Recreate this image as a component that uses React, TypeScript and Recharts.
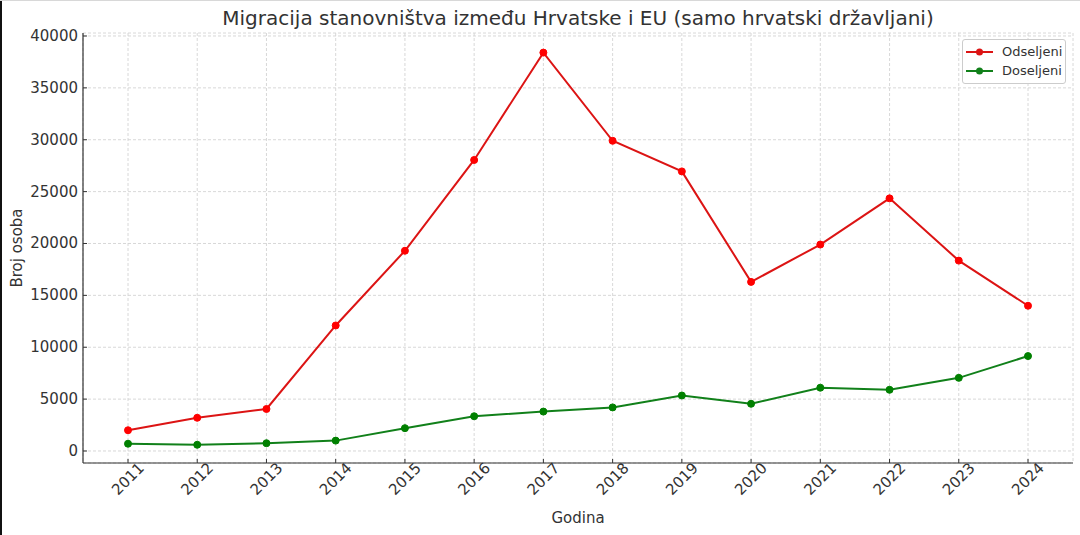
import { LineChart, Line, XAxis, YAxis, CartesianGrid, Legend } from "recharts";

const years = [2011, 2012, 2013, 2014, 2015, 2016, 2017, 2018, 2019, 2020, 2021, 2022, 2023, 2024];
const odseljeni = [2000, 3200, 4050, 12100, 19300, 28050, 38400, 29900, 26950, 16300, 19900, 24350, 18350, 14000];
const doseljeni = [700, 600, 750, 1000, 2200, 3350, 3800, 4200, 5350, 4550, 6100, 5900, 7050, 9150];
const yTicks = [0, 5000, 10000, 15000, 20000, 25000, 30000, 35000, 40000];

const title = "Migracija stanovništva između Hrvatske i EU (samo hrvatski državljani)";
const seriesNames = ["Odseljeni", "Doseljeni"];

const data = years.map((year, i) => ({
  year,
  Odseljeni: odseljeni[i],
  Doseljeni: doseljeni[i],
}));

const FONT = "'DejaVu Sans', sans-serif";
const TEXT = "#333333";
const AXIS = "#333333";

function YTick(props: any) {
  const { x, y, payload } = props;
  return (
    <g>
      <line x1={x} x2={x + 4} y1={y} y2={y} stroke={AXIS} strokeWidth={1} />
      <text
        x={x - 5}
        y={y}
        textAnchor="end"
        dominantBaseline="central"
        fontSize={15}
        fontFamily={FONT}
        fill={TEXT}
      >
        {payload.value}
      </text>
    </g>
  );
}

function XTick(props: any) {
  const { x, y, payload } = props;
  return (
    <g>
      <line x1={x} x2={x} y1={y} y2={y - 4} stroke={AXIS} strokeWidth={1} />
      <text
        transform={`translate(${x}, ${y + 16}) rotate(-45)`}
        textAnchor="middle"
        dominantBaseline="central"
        fontSize={15}
        fontFamily={FONT}
        fill={TEXT}
      >
        {payload.value}
      </text>
    </g>
  );
}

function LegendBox(props: any) {
  // keep the plotting order, not the alphabetical one
  const items = [...(props.payload || [])].sort(
    (a: any, b: any) => seriesNames.indexOf(a.value) - seriesNames.indexOf(b.value)
  );
  return (
    <div
      style={{
        border: "1px solid #cccccc",
        borderRadius: 3,
        background: "rgba(255,255,255,0.85)",
        padding: "2px 0 3px 0",
        fontFamily: FONT,
        fontSize: 13,
        color: TEXT,
        width: 102,
      }}
    >
      {items.map((p: any) => (
        <div key={p.value} style={{ display: "flex", alignItems: "center", height: 19 }}>
          <svg width={36} height={10} style={{ marginLeft: 3 }}>
            <line x1={0} x2={27} y1={5} y2={5} stroke={p.color} strokeWidth={2} />
            <circle cx={13.5} cy={5} r={3.5} fill={p.color} />
          </svg>
          <span>{p.value}</span>
        </div>
      ))}
    </div>
  );
}

export default function App() {
  return (
    <div
      style={{
        position: "absolute",
        left: 0,
        top: 0,
        width: 1080,
        height: 535,
        background: "#ffffff",
        fontFamily: FONT,
        overflow: "hidden",
      }}
    >
      <div style={{ position: "absolute", left: 0, top: 0, width: 2, height: 535, background: "#111" }} />
      <div style={{ position: "absolute", left: 0, top: 0, width: 1080, height: 1, background: "#d8d8d8" }} />
      <div
        style={{
          position: "absolute",
          left: 83,
          width: 990,
          top: 6,
          height: 24,
          lineHeight: "24px",
          textAlign: "center",
          fontSize: 20,
          color: TEXT,
          whiteSpace: "nowrap",
        }}
      >
        {title}
      </div>
      <LineChart
        width={1080}
        height={535}
        data={data}
        margin={{ top: 33, right: 7, bottom: 0, left: 0 }}
      >
        <CartesianGrid stroke="#d4d4d4" strokeDasharray="3 2" strokeWidth={0.9} />
        <XAxis
          dataKey="year"
          type="number"
          domain={[2010.35, 2024.65]}
          ticks={years}
          interval={0}
          allowDataOverflow
          height={72}
          tickSize={0}
          tickMargin={0}
          tickLine={false}
          axisLine={{ stroke: AXIS, strokeWidth: 1.2 }}
          tick={XTick}
          label={(p: any) => {
            const vb = p.viewBox;
            return (
              <text
                x={vb.x + vb.width / 2}
                y={518}
                textAnchor="middle"
                dominantBaseline="central"
                fontSize={15}
                fontFamily={FONT}
                fill={TEXT}
              >
                Godina
              </text>
            );
          }}
        />
        <YAxis
          type="number"
          domain={[-1157, 40289]}
          ticks={yTicks}
          interval={0}
          allowDataOverflow
          width={83}
          tickSize={0}
          tickMargin={0}
          tickLine={false}
          axisLine={{ stroke: AXIS, strokeWidth: 1.2 }}
          tick={YTick}
          label={(p: any) => {
            const vb = p.viewBox;
            const cy = vb.y + vb.height / 2;
            return (
              <text
                transform={`translate(17, ${cy}) rotate(-90)`}
                textAnchor="middle"
                dominantBaseline="central"
                fontSize={15}
                fontFamily={FONT}
                fill={TEXT}
              >
                Broj osoba
              </text>
            );
          }}
        />
        <Legend
          layout="vertical"
          verticalAlign="middle"
          align="center"
          content={LegendBox}
          wrapperStyle={{ top: 39, left: 962, width: 104 }}
        />
        <Line
          type="linear"
          dataKey={seriesNames[0]}
          name={seriesNames[0]}
          stroke="#dc1414"
          strokeWidth={2}
          dot={{ r: 3.5, fill: "#ff0000", stroke: "#ff0000", strokeWidth: 1 }}
          activeDot={false}
          isAnimationActive={false}
        />
        <Line
          type="linear"
          dataKey={seriesNames[1]}
          name={seriesNames[1]}
          stroke="#11801a"
          strokeWidth={2}
          dot={{ r: 3.5, fill: "#008000", stroke: "#008000", strokeWidth: 1 }}
          activeDot={false}
          isAnimationActive={false}
        />
      </LineChart>
    </div>
  );
}
